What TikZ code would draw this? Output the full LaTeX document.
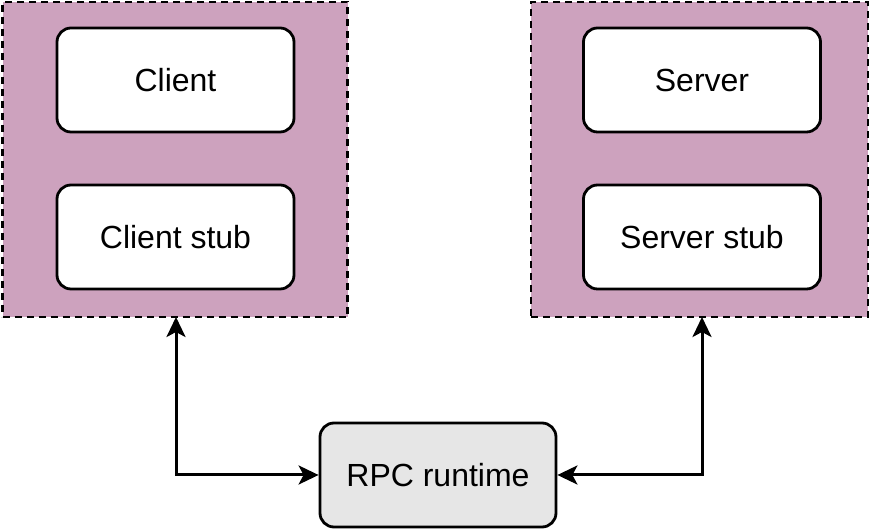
\documentclass[tikz,border=0pt]{standalone}
\usepackage{fontspec}
\setmainfont{Liberation Sans}
\usetikzlibrary{arrows.meta}
\definecolor{grpfill}{HTML}{CDA2BE}
\definecolor{rtfill}{HTML}{E6E6E6}
\begin{document}
\begin{tikzpicture}[x=1pt,y=1pt,
  grp/.style={draw,fill=grpfill,line width=2.4pt,dash pattern=on 7pt off 5pt,minimum width=345pt,minimum height=315pt,inner sep=0pt},
  box/.style={draw,fill=white,line width=2.8pt,rounded corners=14pt,minimum width=237pt,minimum height=104pt,font=\fontsize{32}{38}\selectfont},
  link/.style={line width=3pt,{Stealth[length=20pt,width=19pt,inset=5pt]}-{Stealth[length=20pt,width=19pt,inset=5pt]}}]
\useasboundingbox (0,0) rectangle (871,532);
\fill[white] (0,0) rectangle (871,532);
\node[grp] (cgrp) at (175,372.5) {};
\node[grp,minimum width=337pt] (sgrp) at (699.5,372.5) {};
\node[box] (client) at (175.5,452) {Client};
\node[box] (cstub) at (175.5,295) {Client stub};
\node[box] (server) at (702,452) {Server};
\node[box] (sstub) at (702,295) {Server stub};
\node[box,fill=rtfill,minimum width=236pt] (rpc) at (438,57) {RPC runtime};
\coordinate (cend) at (176,215);
\coordinate (send) at (702,215);
\draw[link] (cend) |- (rpc.west);
\draw[link] (send) |- (rpc.east);
\end{tikzpicture}
\end{document}
